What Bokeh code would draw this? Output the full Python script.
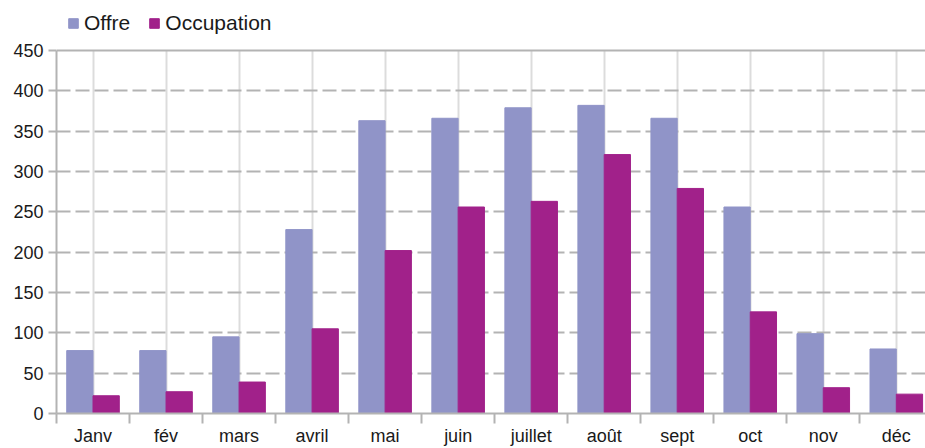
from bokeh.plotting import figure
from bokeh.models import Range1d, FixedTicker, Legend, LegendItem, Span, BoxAnnotation
from bokeh.embed import file_html
from bokeh.resources import INLINE

months = ["Janv", "fév", "mars", "avril", "mai", "juin", "juillet", "août", "sept", "oct", "nov", "déc"]
offre = [78, 78, 95, 228, 363, 366, 379, 382, 366, 256, 99, 80]
occupation = [22, 27, 39, 105, 202, 256, 263, 321, 279, 126, 32, 24]
y_ticks = [0, 50, 100, 150, 200, 250, 300, 350, 400, 450]

C_OFFRE = "#9094c8"
C_OCC = "#a1218a"
FONT = "Liberation Sans"

centers = [i + 0.5 for i in range(len(months))]
bounds = [i for i in range(len(months) + 1)]
x_off = [c - 0.18 for c in centers]
x_occ = [c + 0.18 for c in centers]
y_top = y_ticks[-1]

p = figure(width=925, height=448, x_range=Range1d(0, 11.9), y_range=Range1d(0, 512),
           output_backend="svg", toolbar_location=None,
           min_border_left=56, min_border_top=0, min_border_right=0, min_border_bottom=20)
p.outline_line_color = None
p.background_fill_color = "white"
p.border_fill_color = "white"

r1 = p.vbar(x=x_off, top=offre, width=0.36, bottom=0, fill_color=C_OFFRE, line_color=C_OFFRE)
r2 = p.vbar(x=x_occ, top=occupation, width=0.36, bottom=0, fill_color=C_OCC, line_color=C_OCC)

# x axis: labels at centers, ticks at category boundaries
xt = FixedTicker(ticks=centers, minor_ticks=bounds)
p.xaxis.ticker = xt
p.xaxis.major_label_overrides = {c: m for c, m in zip(centers, months)}
p.xaxis.major_tick_out = 0
p.xaxis.major_tick_in = 0
p.xaxis.minor_tick_out = 10
p.xaxis.minor_tick_in = 0
p.xaxis.minor_tick_line_color = "#b3b3b3"
p.xaxis.minor_tick_line_width = 2
p.xaxis.axis_line_color = "#b3b3b3"
p.xaxis.axis_line_width = 2
p.xaxis.major_label_standoff = 2
p.xaxis.major_label_text_font = FONT
p.xaxis.major_label_text_font_size = "18px"
p.xaxis.major_label_text_color = "#1a1a1a"

p.yaxis.ticker = FixedTicker(ticks=y_ticks)
p.yaxis.bounds = (0, y_top)
p.yaxis.major_tick_out = 8
p.yaxis.major_tick_in = 0
p.yaxis.minor_tick_out = 0
p.yaxis.minor_tick_in = 0
p.yaxis.major_tick_line_color = "#b3b3b3"
p.yaxis.major_tick_line_width = 2
p.yaxis.axis_line_color = "#b3b3b3"
p.yaxis.axis_line_width = 2
p.yaxis.major_label_standoff = 5
p.yaxis.major_label_text_font = FONT
p.yaxis.major_label_text_font_size = "18px"
p.yaxis.major_label_text_color = "#1a1a1a"

xg = p.xgrid[0]
xg.ticker = xt
xg.grid_line_color = "#dcdcdc"
xg.grid_line_width = 2
yg = p.ygrid[0]
yg.ticker = FixedTicker(ticks=y_ticks[:-1])
yg.grid_line_color = "#b3b3b3"
yg.grid_line_width = 2
yg.grid_line_dash = "14 5"

if "cross_bounds" in xg.properties():
    xg.cross_bounds = (0, y_top)
    yg.cross_bounds = (0, 12)
else:
    p.add_layout(BoxAnnotation(bottom=y_top, fill_color="white", fill_alpha=1.0, line_color=None))

p.add_layout(Span(location=y_top, dimension="width", line_color="#b3b3b3", line_width=2))

legend = Legend(items=[LegendItem(label="Offre", renderers=[r1]),
                       LegendItem(label="Occupation", renderers=[r2])],
                location="top_left", orientation="horizontal",
                glyph_width=12, glyph_height=12, label_standoff=5, spacing=18,
                padding=2, margin=11, border_line_color=None, background_fill_alpha=0,
                label_text_font=FONT, label_text_font_size="21px", label_text_color="#1a1a1a")
p.add_layout(legend, "center")

open("out.html", "w").write(file_html(p, INLINE))
